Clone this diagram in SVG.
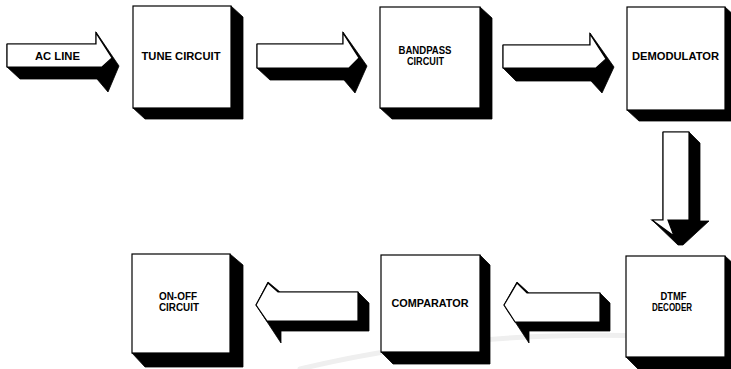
<svg xmlns="http://www.w3.org/2000/svg" width="731" height="369" viewBox="0 0 731 369">
  <style>
    .face { fill: #ffffff; stroke: #000000; stroke-width: 1.2; stroke-linejoin: miter; }
    .shade { fill: #000000; stroke: #000000; stroke-width: 0.8; stroke-linejoin: miter; }
    .lbl { font-family: "Liberation Sans", Arial, sans-serif; font-weight: bold; font-size: 11px; fill: #000000; text-anchor: middle; }
    .swoosh { fill: none; stroke: #efefef; stroke-width: 5; stroke-linecap: round; }
  </style>
  <rect x="0" y="0" width="731" height="369" fill="#ffffff"/>

  <!-- faint background swoosh -->
  <path class="swoosh" d="M 300 369 Q 460 330 650 336"/>

  <!-- 3D block arrows -->
  <g id="connectors">
    <!-- AC LINE input arrow -->
    <g id="arrow-acline">
      <polygon class="shade" points="7,44 96,44 96,32 119,66 108,92 97,79 20,79 7,67"/>
      <polygon class="face" points="7,44 96,44 96,33 112,58 102,67 7,67"/>
      <text class="lbl" x="57.5" y="59.5" textLength="45" lengthAdjust="spacingAndGlyphs">AC LINE</text>
    </g>
    <!-- tune -> bandpass -->
    <g id="arrow-tune-bandpass">
      <polygon class="shade" points="257,44 343,44 343,32 367,66 355,93 344,80 270,80 257,68"/>
      <polygon class="face" points="257,44 343,44 343,33 359,58 349,68 257,68"/>
    </g>
    <!-- bandpass -> demodulator -->
    <g id="arrow-bandpass-demod">
      <polygon class="shade" points="503,45 590,45 590,33 614,67 602,93 591,81 516,81 503,68"/>
      <polygon class="face" points="503,45 590,45 590,34 606,59 596,68 503,68"/>
    </g>
    <!-- demodulator -> dtmf decoder -->
    <g id="arrow-demod-dtmf">
      <polygon class="shade" points="652,220 663,220 663,132 689,132 700,143 700,221 709,221 683,245 678,245"/>
      <polygon class="face" points="663,132 689,132 689,220 668,220 674,236 652,220 663,220"/>
    </g>
    <!-- dtmf decoder -> comparator -->
    <g id="arrow-dtmf-comp">
      <polygon class="shade" points="504,305 517,282 529,293 600,293 610,303 610,331 529,331 529,343"/>
      <polygon class="face" points="504,305 517,283 527,293 600,293 600,322 515,322"/>
    </g>
    <!-- comparator -> on-off circuit -->
    <g id="arrow-comp-onoff">
      <polygon class="shade" points="256,305 268,282 280,292 358,292 369,303 369,331 281,331 281,343"/>
      <polygon class="face" points="256,305 268,283 278,292 358,292 358,321 267,321"/>
    </g>
  </g>

  <!-- blocks: white face with a solid extruded side -->
  <g id="tune-circuit">
    <polygon class="shade" points="231,6 243,17 243,119 145,119 133,108"/>
    <rect class="face" x="133" y="6" width="98" height="102"/>
    <text class="lbl" x="181" y="60" textLength="79" lengthAdjust="spacingAndGlyphs">TUNE CIRCUIT</text>
  </g>

  <g id="bandpass-circuit">
    <polygon class="shade" points="480,7 492,18 492,119 392,119 380,108"/>
    <rect class="face" x="380" y="7" width="100" height="101"/>
    <text class="lbl" x="425" y="54" textLength="53" lengthAdjust="spacingAndGlyphs">BANDPASS</text>
    <text class="lbl" x="425.5" y="65" textLength="37" lengthAdjust="spacingAndGlyphs">CIRCUIT</text>
  </g>

  <g id="demodulator">
    <polygon class="shade" points="725,7 737,18 737,121 639,121 627,110"/>
    <rect class="face" x="627" y="7" width="98" height="103"/>
    <text class="lbl" x="675.5" y="60" textLength="87" lengthAdjust="spacingAndGlyphs">DEMODULATOR</text>
  </g>

  <g id="dtmf-decoder">
    <polygon class="shade" points="725,256 737,267 737,369 638,369 626,357"/>
    <rect class="face" x="626" y="256" width="99" height="101"/>
    <text class="lbl" x="673.5" y="300" textLength="26" lengthAdjust="spacingAndGlyphs">DTMF</text>
    <text class="lbl" x="672" y="311" textLength="40" lengthAdjust="spacingAndGlyphs">DECODER</text>
  </g>

  <g id="comparator">
    <polygon class="shade" points="480,255 490,265 490,364 393,364 381,352"/>
    <rect class="face" x="381" y="255" width="99" height="97"/>
    <text class="lbl" x="430" y="307" textLength="77" lengthAdjust="spacingAndGlyphs">COMPARATOR</text>
  </g>

  <g id="on-off-circuit">
    <polygon class="shade" points="230,254 243,265 243,367 145,367 132,353"/>
    <rect class="face" x="132" y="254" width="98" height="99"/>
    <text class="lbl" x="178" y="300" textLength="38" lengthAdjust="spacingAndGlyphs">ON-OFF</text>
    <text class="lbl" x="179" y="311" textLength="40" lengthAdjust="spacingAndGlyphs">CIRCUIT</text>
  </g>
</svg>
